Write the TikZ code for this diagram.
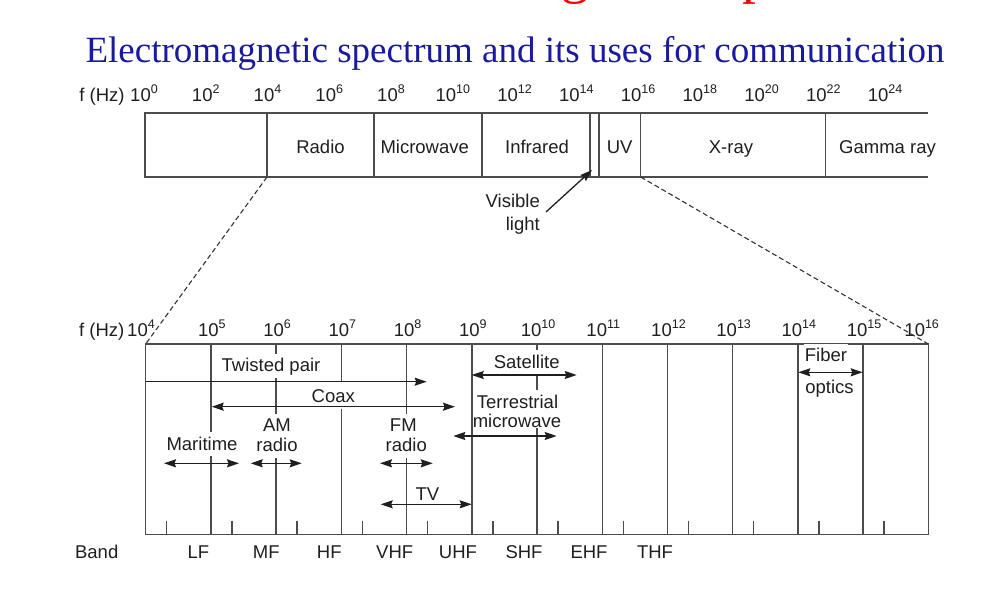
\documentclass[tikz,border=0pt]{standalone}
\usepackage{fontspec}
\setmainfont{Liberation Sans}
\newfontfamily\ttlfont{Liberation Serif}
\usetikzlibrary{arrows.meta}
\definecolor{ttlblue}{RGB}{26,26,158}
\newcommand\pw[1]{10\raisebox{7.5pt}{\fontsize{12.5}{12.5}\selectfont #1}}
\begin{document}
\begin{tikzpicture}[x=1pt,y=-1pt,
  chart/.style={line width=1.4pt, draw=black!70},
  lbl/.style={font=\fontsize{18.5}{21}\selectfont, inner sep=0pt, anchor=base, text=black!88},
  wlbl/.style={lbl, fill=white, inner xsep=0.5pt, inner ysep=1pt, text height=17pt, text depth=5pt},
  arr/.style={line width=1.3pt, draw=black!88, -{Stealth[length=12pt,width=8pt,inset=1.5pt]}},
  darr/.style={line width=1.3pt, draw=black!88, {Stealth[length=12pt,width=8pt,inset=1.5pt]}-{Stealth[length=12pt,width=8pt,inset=1.5pt]}},
  zoomline/.style={line width=1.1pt, draw=black!80, dash pattern=on 5pt off 3pt}]
\useasboundingbox (0,0) rectangle (1001,589);
\fill[white] (0,0) rectangle (1001,589);

% titles
\node[anchor=base west, inner sep=0pt, text=red, font=\ttlfont\fontsize{55.6}{56}\selectfont] (redttl) at (332.6,-7) {Electromagnetic Spectrum};
\node[anchor=base, inner sep=0pt, text=ttlblue, font=\ttlfont\fontsize{37}{40}\selectfont] (ttl) at (515,62) {Electromagnetic spectrum and its uses for communication};

% ---------- upper bar ----------
\draw[chart] (928,113) -- (145,113) -- (145,177) -- (928,177);
\foreach \x in {267,374,482,590,599,640.7,825.7} \draw[chart] (\x,113) -- (\x,177);
\coordinate (tb4) at (267,177);
\coordinate (tb16) at (640.7,177);

\node[lbl] (fhz1) at (102,101) {f (Hz)};
\foreach \k in {0,...,12}{
  \pgfmathtruncatemacro\e{2*\k}
  \node[lbl] (t\k) at ({144+61.75*\k},101) {\pw{\e}};
}
\node[lbl] (radio) at (320.5,153) {Radio};
\node[lbl] (micro) at (424.7,153) {Microwave};
\node[lbl] (infra) at (537,153) {Infrared};
\node[lbl] (uv) at (619.7,153) {UV};
\node[lbl] (xray) at (731,153) {X-ray};
\node[lbl] (gamma) at (887.5,153) {Gamma ray};

\node[lbl, anchor=base east] (vis1) at (540,207) {Visible};
\node[lbl, anchor=base east] (vis2) at (540,230) {light};
\coordinate (vtail) at (546,212);
\coordinate (vtip) at (592,170);
\draw[arr] (vtail) -- (vtip);

% ---------- lower chart ----------
\coordinate (lc4) at (145.7,344);
\coordinate (lc16) at (928.3,344);
\draw[chart] (lc4) rectangle (928.3,534.3);
\foreach \n in {5,...,15} \draw[chart] ({145.7+65.22*(\n-4)},344) -- ({145.7+65.22*(\n-4)},534.3);
\foreach \n in {4,...,15} \draw[chart] ({166.7+65.22*(\n-4)},520.7) -- ++(0,13.6);

\node[lbl] (fhz2) at (101.7,336) {f (Hz)};
\node[lbl] (b4) at (141,336) {\pw{4}};
\foreach \n in {5,...,15} \node[lbl] (b\n) at ({146.7+65.22*(\n-4)},336) {\pw{\n}};
\node[lbl] (b16) at (921.7,336) {\pw{16}};

% labels with white background
\node[wlbl] (tp) at (271,371.5) {Twisted pair};
\node[wlbl, text height=20pt] (coax) at (333.3,402.5) {Coax};
\node[wlbl] (am1) at (277,431.7) {AM};
\node[wlbl] (am2) at (277,451.7) {radio};
\node[wlbl] (mar) at (202,450) {Maritime};
\node[wlbl] (fm1) at (403.3,431.7) {FM};
\node[wlbl] (fm2) at (406.3,451.7) {radio};
\node[wlbl] (sat) at (526.7,368.3) {Satellite};
\node[wlbl] (ter1) at (517.5,408.3) {Terrestrial};
\node[wlbl, text depth=0pt] (ter2) at (517,427.3) {microwave};
\node[wlbl] (fib1) at (826,361.7) {Fiber};
\node[wlbl] (fib2) at (829.5,393.5) {optics};
\node[wlbl] (tv) at (427.5,500) {TV};

% 10^9 line drawn over the labels
\draw[chart] (471.8,344) -- (471.8,534.3);

% arrows
\coordinate (tpA) at (145.7,381.7); \coordinate (tpB) at (426.7,381.7);
\draw[arr] (tpA) -- (tpB);
\coordinate (cxA) at (211.7,406.7); \coordinate (cxB) at (455,406.7);
\draw[darr] (cxA) -- (cxB);
\coordinate (mrA) at (164,463.3); \coordinate (mrB) at (239,463.3);
\draw[darr] (mrA) -- (mrB);
\coordinate (amA) at (250.7,463.3); \coordinate (amB) at (301.7,463.3);
\draw[darr] (amA) -- (amB);
\coordinate (fmA) at (380,463.3); \coordinate (fmB) at (432.7,463.3);
\draw[darr] (fmA) -- (fmB);
\coordinate (stA) at (471.7,375); \coordinate (stB) at (576.7,375);
\draw[darr] (stA) -- (stB);
\coordinate (trA) at (453.3,436); \coordinate (trB) at (556.7,436);
\draw[darr] (trA) -- (trB);
\coordinate (fbA) at (798.3,372.3); \coordinate (fbB) at (862.7,372.3);
\draw[darr] (fbA) -- (fbB);
\coordinate (tvA) at (380.7,504.3); \coordinate (tvB) at (471.7,504.3);
\draw[darr] (tvA) -- (tvB);

% band labels
\node[lbl] (band) at (96.7,558.3) {Band};
\node[lbl] (lf) at (198.5,558.3) {LF};
\node[lbl] (mf) at (266.3,558.3) {MF};
\node[lbl] (hf) at (329.3,558.3) {HF};
\node[lbl] (vhf) at (394.7,558.3) {VHF};
\node[lbl] (uhf) at (458,558.3) {UHF};
\node[lbl] (shf) at (524,558.3) {SHF};
\node[lbl] (ehf) at (589,558.3) {EHF};
\node[lbl] (thf) at (655,558.3) {THF};

% zoom lines
\draw[zoomline] (tb4) -- (lc4);
\draw[zoomline] (tb16) -- (lc16);
\end{tikzpicture}
\end{document}
